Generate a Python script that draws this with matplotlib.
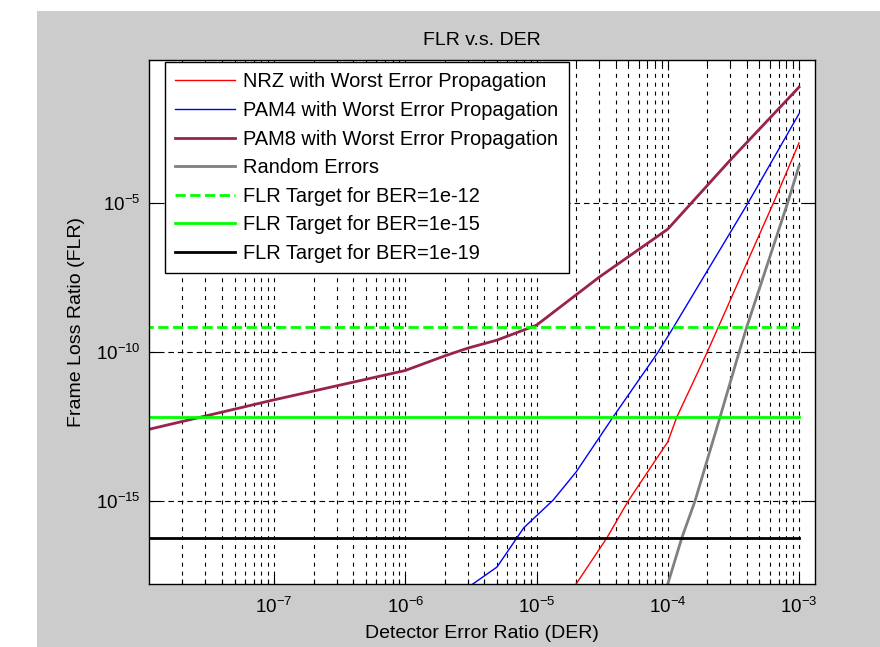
import numpy as np
import matplotlib
matplotlib.use("Agg")
import matplotlib.pyplot as plt
from matplotlib.patches import Rectangle
from matplotlib.ticker import LogLocator, NullLocator, NullFormatter

plt.rcParams['font.family'] = ['Liberation Sans', 'DejaVu Sans']
plt.rcParams['mathtext.fontset'] = 'custom'
plt.rcParams['mathtext.rm'] = 'Liberation Sans'
plt.rcParams['mathtext.it'] = 'Liberation Sans:italic'
plt.rcParams['axes.unicode_minus'] = False

# values
nrz_der = [1.9e-5, 3.44e-5, 4.98e-5, 1e-4, 1.17e-4, 2e-4, 6.4e-4, 1e-3]
nrz_flr = [1.2e-18, 6e-17, 1e-15, 9.8e-14, 6.5e-13, 1e-10, 1e-5, 1e-3]

pam4_der = [3e-6, 5e-6, 8e-6, 1.34e-5, 2e-5, 3.8e-5, 8.4e-5, 1.1e-4, 4.1e-4, 1e-3]
pam4_flr = [1.3e-18, 6.3e-18, 1.3e-16, 1.1e-15, 9.5e-15, 6.3e-13, 9.6e-11, 6.5e-10, 1e-5, 9.5e-3]

pam8_der = [1e-8, 1e-7, 1e-6, 2e-6, 3e-6, 5e-6, 1e-5, 3e-5, 1e-4, 3e-4, 1e-3]
pam8_flr = [2.3e-13, 2.5e-12, 2.4e-11, 7.4e-11, 1.35e-10, 2.5e-10, 7.9e-10, 3.2e-8, 1.3e-6, 2.7e-4, 7.4e-2]

rand_der = [1e-4, 1.28e-4, 1.61e-4, 2.5e-4, 3.5e-4, 4e-4, 8.2e-4, 1e-3]
rand_flr = [1.7e-18, 6e-17, 1e-15, 6.5e-13, 1e-10, 6.9e-10, 1e-5, 1.7e-4]

target_der = [1e-8, 1e-3]
target_12 = 6.9e-10
target_15 = 6.6e-13
target_19 = 6.0e-17

fig = plt.figure(figsize=(8.8, 6.47), dpi=100)
fig.patch.set_facecolor('white')
fig.patches.append(Rectangle((37 / 880, 0), 1, (647 - 11) / 647, transform=fig.transFigure,
                             facecolor='#cccccc', edgecolor='none', zorder=-10))

ax = fig.add_axes([149 / 880, 63 / 647, 666 / 880, 524 / 647])
ax.set_facecolor('white')

ax.loglog(nrz_der, nrz_flr, color='red', lw=1.0, label='NRZ with Worst Error Propagation')
ax.loglog(pam4_der, pam4_flr, color='blue', lw=1.0, label='PAM4 with Worst Error Propagation')
ax.loglog(pam8_der, pam8_flr, color='#99224f', lw=2.0, label='PAM8 with Worst Error Propagation')
ax.loglog(rand_der, rand_flr, color='#808080', lw=2.0, label='Random Errors')
ax.loglog(target_der, [target_12] * 2, color='#00ff00', lw=2.0, ls='--', label='FLR Target for BER=1e-12')
ax.loglog(target_der, [target_15] * 2, color='#00ff00', lw=2.0, label='FLR Target for BER=1e-15')
ax.loglog(target_der, [target_19] * 2, color='black', lw=2.0, label='FLR Target for BER=1e-19')

ax.set_xlim(1.115e-8, 1.324e-3)
ax.set_ylim(1.70e-18, 0.60)

ax.xaxis.set_major_locator(LogLocator(base=10, numticks=20))
ax.xaxis.set_minor_locator(LogLocator(base=10, subs=np.arange(2, 10), numticks=20))
ax.xaxis.set_minor_formatter(NullFormatter())
ax.set_yticks([1e-15, 1e-10, 1e-5])
ax.yaxis.set_minor_locator(NullLocator())

ax.tick_params(which='both', direction='in', top=True, right=True, labelsize=13.5, width=0.8)
ax.tick_params(which='major', length=7)
ax.tick_params(which='minor', length=3.5)
ax.tick_params(axis='x', pad=9)
ax.tick_params(axis='y', pad=6)

ax.grid(True, which='both', axis='x', color='black', lw=0.8, ls=(0, (3.6, 4.4)))
ax.grid(True, which='major', axis='y', color='black', lw=0.8, ls=(0, (5, 3.5)))
for s in ax.spines.values():
    s.set_linewidth(1.0)

ax.set_title('FLR v.s. DER', fontsize=14, pad=11)
ax.set_xlabel('Detector Error Ratio (DER)', fontsize=14, labelpad=6)
ax.set_ylabel('Frame Loss Ratio (FLR)', fontsize=14, labelpad=8)

leg = ax.legend(loc='upper left', bbox_to_anchor=(0.024, 0.996), borderaxespad=0,
                prop={'size': 14.4}, handlelength=3.0, handletextpad=0.38, labelspacing=0.48,
                borderpad=0.52, fancybox=False, framealpha=1, edgecolor='black')
leg.get_frame().set_linewidth(1.0)

fig.savefig('out.png', dpi=100)
